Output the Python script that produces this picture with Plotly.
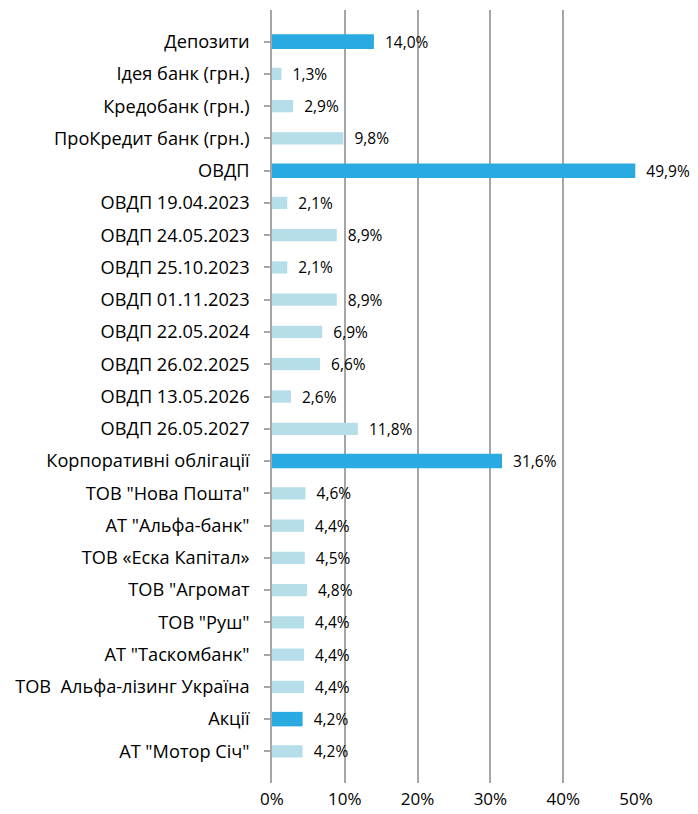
import plotly.graph_objects as go

categories = [
    "Депозити", "Ідея банк (грн.)", "Кредобанк (грн.)", "ПроКредит банк (грн.)",
    "ОВДП", "ОВДП 19.04.2023", "ОВДП 24.05.2023", "ОВДП 25.10.2023",
    "ОВДП 01.11.2023", "ОВДП 22.05.2024", "ОВДП 26.02.2025", "ОВДП 13.05.2026",
    "ОВДП 26.05.2027", "Корпоративні облігації", "ТОВ \"Нова Пошта\"",
    "АТ \"Альфа-банк\"", "ТОВ «Еска Капітал»", "ТОВ \"Агромат", "ТОВ \"Руш\"",
    "АТ \"Таскомбанк\"", "ТОВ\u00a0 Альфа-лізинг Україна", "Акції", "АТ \"Мотор Січ\"",
]
values = [14.0, 1.3, 2.9, 9.8, 49.9, 2.1, 8.9, 2.1, 8.9, 6.9, 6.6, 2.6, 11.8,
          31.6, 4.6, 4.4, 4.5, 4.8, 4.4, 4.4, 4.4, 4.2, 4.2]
is_group = [True, False, False, False, True, False, False, False, False, False,
            False, False, False, True, False, False, False, False, False, False,
            False, True, False]
x_ticks = [0, 10, 20, 30, 40, 50]
x_tick_labels = ["0%", "10%", "20%", "30%", "40%", "50%"]

DARK = "#29ABE2"
LIGHT = "#B5DDEA"
colors = [DARK if g else LIGHT for g in is_group]
labels = ["\u00a0\u00a0" + f"{v:.1f}".replace(".", ",") + "%" for v in values]

fig = go.Figure(go.Bar(
    x=values, y=categories, orientation="h",
    marker=dict(color=colors, line=dict(width=0)),
    width=[0.45 if g else 0.38 for g in is_group],
    text=labels, textposition="outside", cliponaxis=False,
    constraintext="none",
    textfont=dict(family="Open Sans", size=15.5, color="#000000"),
    hoverinfo="skip",
))

fig.update_layout(
    width=698, height=814,
    margin=dict(l=264, r=70, t=2, b=39),
    paper_bgcolor="white", plot_bgcolor="white",
    font=dict(family="Open Sans", size=18, color="#000000"),
    showlegend=False,
    xaxis=dict(
        range=[0, 50], tickvals=x_ticks, ticktext=x_tick_labels,
        showgrid=True, gridcolor="#A6A6A6", gridwidth=1.5,
        zeroline=False, showline=False, ticks="",
        ticklabelstandoff=4, automargin=False,
        tickfont=dict(family="Open Sans", size=17),
    ),
    yaxis=dict(
        categoryorder="array", categoryarray=categories,
        autorange=False, range=[22.98, -0.98],
        showline=True, linecolor="#A6A6A6", linewidth=1.5,
        ticks="outside", ticklen=6, tickcolor="#A6A6A6", tickwidth=1.5,
        ticklabelstandoff=11, automargin=False,
        showgrid=False,
        tickfont=dict(family="Open Sans", size=18.2),
    ),
)

fig.write_html("out.html")
